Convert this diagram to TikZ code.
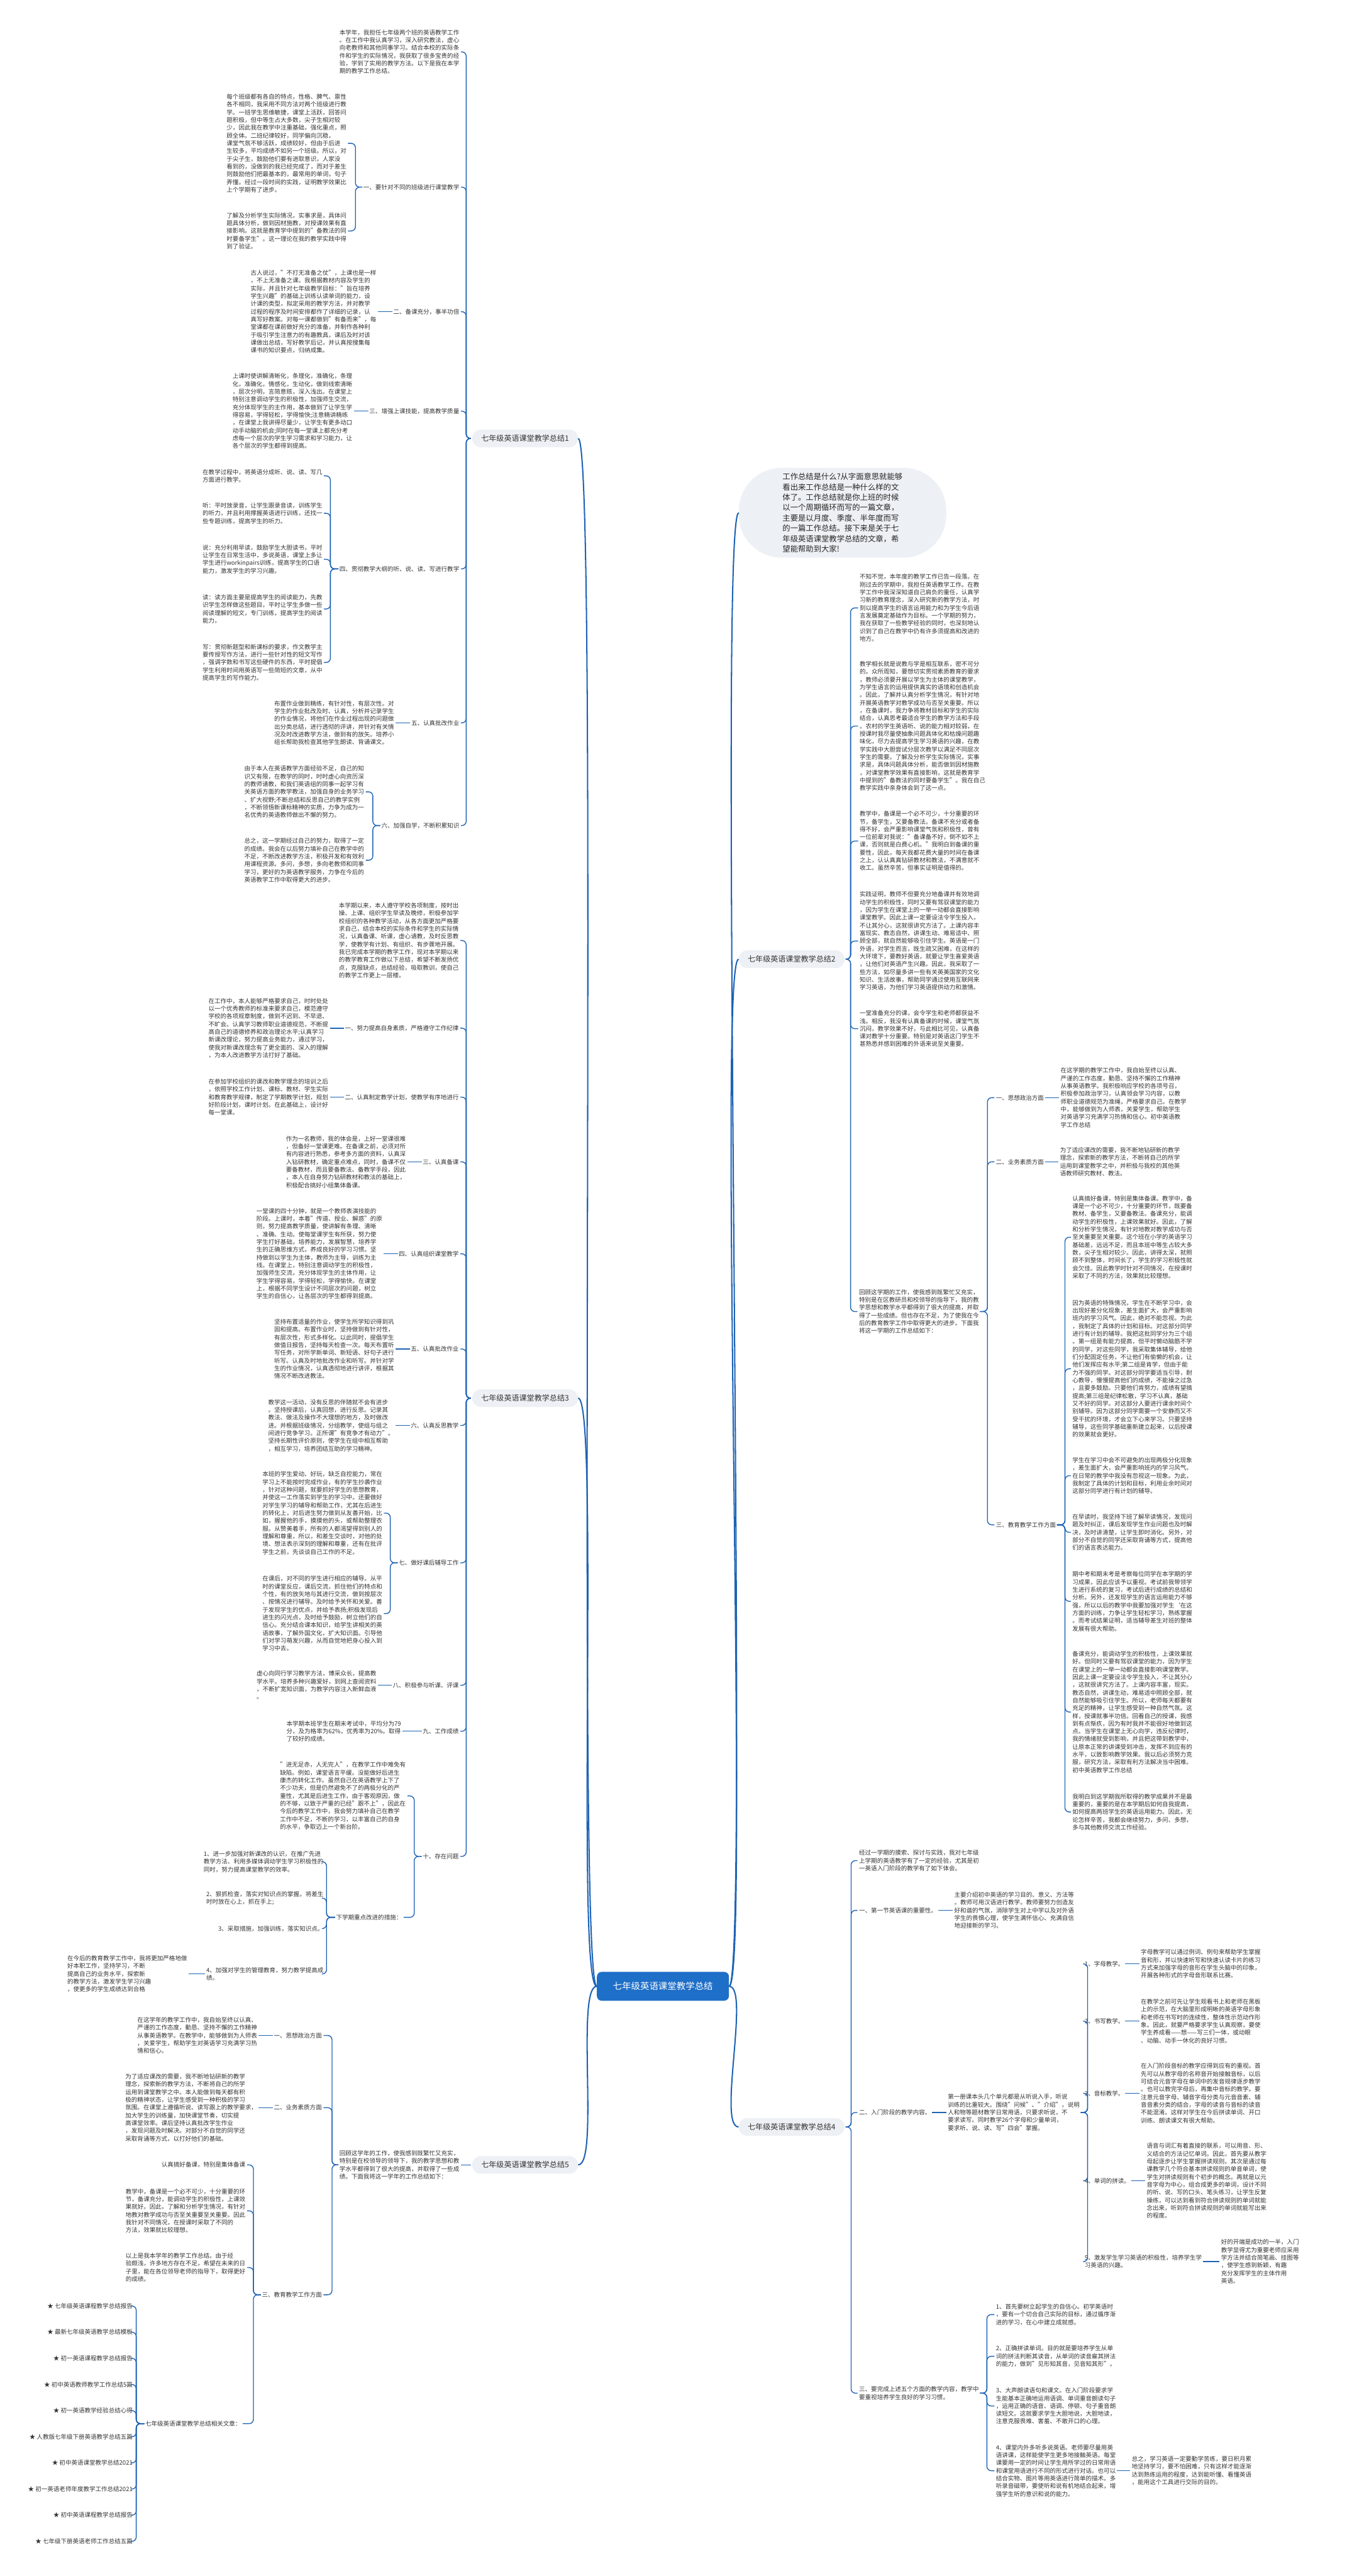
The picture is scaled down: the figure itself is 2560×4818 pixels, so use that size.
\documentclass[tikz,border=0pt]{standalone}
\usepackage{fontspec}
\setmainfont{Noto Sans CJK SC}
\usetikzlibrary{calc}
\definecolor{linec}{HTML}{1E63B4}
\definecolor{txtc}{HTML}{333333}
\definecolor{pillc}{HTML}{EDF0F4}
\definecolor{rootc}{HTML}{1E6FC8}
\begin{document}
\begin{tikzpicture}[x=1pt,y=-1pt,
 tx/.style={font=\fontsize{11.2}{14.5}\selectfont, text=txtc, inner sep=0pt, outer sep=0pt, align=left},
 txr/.style={tx, anchor=west},
 txl/.style={tx, anchor=east},
 pill/.style={fill=pillc, rounded corners=16pt, minimum height=33pt, inner xsep=17pt, inner ysep=0pt, font=\fontsize{14.2}{16}\selectfont, text=txtc},
 conn/.style={draw=linec, line width=1.6pt, rounded corners=8pt, shorten <=2pt, shorten >=3pt},
 mainc/.style={draw=linec, line width=2.4pt}]
\useasboundingbox (0,0) rectangle (2560,4818);
% root and intro bubble
\node[fill=rootc, rounded corners=9pt, minimum height=54pt, inner xsep=30pt, text=white, font=\fontsize{17}{20}\selectfont] (root) at (1240,3715) {七年级英语课堂教学总结};
\node[fill=pillc, rounded corners=80pt, minimum height=168pt, minimum width=388pt, inner sep=0pt, text=black!85, align=left, font=\fontsize{14.5}{19.3}\selectfont] (intro) at (1576,959) {工作总结是什么?从字面意思就能够\\看出来工作总结是一种什么样的文\\体了。工作总结就是你上班的时候\\以一个周期循环而写的一篇文章，\\主要是以月度、季度、半年度而写\\的一篇工作总结。接下来是关于七\\年级英语课堂教学总结的文章，希\\望能帮助到大家!};
% pills
\node[pill, anchor=west] (b1) at (883,820) {七年级英语课堂教学总结1};
\node[pill, anchor=east] (b2) at (1580,1794) {七年级英语课堂教学总结2};
\node[pill, anchor=west] (b3) at (883,2615) {七年级英语课堂教学总结3};
\node[pill, anchor=east] (b4) at (1580,3978) {七年级英语课堂教学总结4};
\node[pill, anchor=west] (b5) at (883,4049) {七年级英语课堂教学总结5};
\foreach \p in {b1,b3,b5} \draw[mainc] (root.west) .. controls +(-40,0) and +(40,0) .. (\p.east);
\foreach \p in {b2,b4} \draw[mainc] (root.east) .. controls +(40,0) and +(-40,0) .. (\p.west);
\draw[mainc] (root.east) .. controls +(40,0) and +(-40,0) .. (intro.west);

% ================= Branch 1 =================
\node[txl] (b1t0) at (859,97) {本学年，我担任七年级两个班的英语教学工作\\。在工作中我认真学习，深入研究教法，虚心\\向老教师和其他同事学习。结合本校的实际条\\件和学生的实际情况，我获取了很多宝贵的经\\验，学到了实用的教学方法。以下是我在本学\\期的教学工作总结。};
\node[txl] (b1l1) at (859,350) {一、要针对不同的班级进行课堂教学};
\node[txl] (b1l1a) at (648,268) {每个班级都有各自的特点，性格、脾气、禀性\\各不相同，我采用不同方法对两个班级进行教\\学。一班学生思维敏捷，课堂上活跃，回答问\\题积极，但中等生占大多数，尖子生相对较\\少，因此我在教学中注重基础，强化重点，照\\顾全体。二班纪律较好，同学偏向沉稳，\\课堂气氛不够活跃，成绩较好，但由于后进\\生较多，平均成绩不如另一个班级。所以，对\\于尖子生，鼓励他们要有进取意识，人家没\\看到的，没做到的我已经完成了，而对于差生\\则鼓励他们把最基本的，最常用的单词，句子\\弄懂。经过一段时间的实践，证明教学效果比\\上个学期有了进步。};
\node[txl] (b1l1b) at (648,432) {了解及分析学生实际情况，实事求是，具体问\\题具体分析，做到因材施教，对授课效果有直\\接影响。这就是教育学中提到的"备教法的同\\时要备学生"。这一理论在我的教学实践中得\\到了验证。};
\node[txl] (b1l2) at (859,583) {二、备课充分，事半功倍};
\node[txl] (b1l2a) at (704,583) {古人说过，"不打无准备之仗"，上课也是一样\\，不上无准备之课。我根据教材内容及学生的\\实际，并且针对七年级教学目标："旨在培养\\学生兴趣"的基础上训练认读单词的能力，设\\计课的类型，拟定采用的教学方法，并对教学\\过程的程序及时间安排都作了详细的记录，认\\真写好教案。对每一课都做到"有备而来"，每\\堂课都在课前做好充分的准备，并制作各种利\\于吸引学生注意力的有趣教具，课后及时对该\\课做出总结，写好教学后记，并认真按搜集每\\课书的知识要点，归纳成集。};
\node[txl] (b1l3) at (859,769) {三、增强上课技能，提高教学质量};
\node[txl] (b1l3a) at (659,769) {上课时使讲解清晰化，条理化，准确化，条理\\化，准确化，情感化，生动化，做到线索清晰\\，层次分明，言简意赅，深入浅出。在课堂上\\特别注意调动学生的积极性，加强师生交流，\\充分体现学生的主作用，基本做到了让学生学\\得容易，学得轻松，学得愉快;注意精讲精练\\，在课堂上我讲得尽量少，让学生有更多动口\\动手动脑的机会;同时在每一堂课上都充分考\\虑每一个层次的学生学习需求和学习能力，让\\各个层次的学生都得到提高。};
\node[txl] (b1l4) at (859,1064) {四、贯彻教学大纲的听、说、读、写进行教学};
\node[txl] (b1l4a) at (603,890) {在教学过程中，将英语分成听、说、读、写几\\方面进行教学。};
\node[txl] (b1l4b) at (603,960) {听：平时放录音，让学生跟录音读，训练学生\\的听力，并且利用撑握英语进行训练，还找一\\些专题训练，提高学生的听力。};
\node[txl] (b1l4c) at (603,1046) {说：充分利用早读，鼓励学生大胆读书，平时\\让学生在日常生活中，多说英语，课堂上多让\\学生进行workinpairs训练，提高学生的口语\\能力，激发学生的学习兴趣。};
\node[txl] (b1l4d) at (603,1139) {读：读方面主要是提高学生的阅读能力，先教\\识学生怎样做这些题目，平时让学生多做一些\\阅读理解的短文，专门训练，提高学生的阅读\\能力。};
\node[txl] (b1l4e) at (603,1239) {写：贯彻新题型和新课标的要求，作文教学主\\要传授写作方法，进行一些针对性的短文写作\\，强调字数和书写这些硬件的东西，平时提倡\\学生利用时间用英语写一些简短的文章，从中\\提高学生的写作能力。};
\node[txl] (b1l5) at (859,1352) {五、认真批改作业};
\node[txl] (b1l5a) at (737,1352) {布置作业做到精练，有针对性，有层次性。对\\学生的作业批改及时、认真，分析并记录学生\\的作业情况，将他们在作业过程出现的问题做\\出分类总结，进行透彻的评讲，并针对有关情\\况及时改进教学方法，做到有的放矢。培养小\\组长帮助我检查其他学生朗读、背诵课文。};
\node[txl] (b1l6) at (859,1544) {六、加强自学，不断积累知识};
\node[txl] (b1l6a) at (681,1481) {由于本人在英语教学方面经验不足，自己的知\\识又有限，在教学的同时，时时虚心向资历深\\的教师请教，和我们英语组的同事一起学习有\\关英语方面的教学教法，加强自身的业务学习\\、扩大视野;不断总结和反思自己的教学实例\\，不断领悟新课标精神的实质，力争为成为一\\名优秀的英语教师做出不懈的努力。};
\node[txl] (b1l6b) at (681,1609) {总之，这一学期经过自己的努力，取得了一定\\的成绩。我会在以后努力填补自己在教学中的\\不足，不断改进教学方法，积极开发和有效利\\用课程资源。多问，多想，多向老教师和同事\\学习，更好的为英语教学服务，力争在今后的\\英语教学工作中取得更大的进步。};
\foreach \c in {b1t0,b1l1,b1l2,b1l3,b1l4,b1l5,b1l6} \draw[conn] (b1.west) -- ++(-11,0) |- (\c.east);
\foreach \c in {b1l1a,b1l1b} \draw[conn] (b1l1.west) -- ++(-15,0) |- (\c.east);
\draw[conn] (b1l2.west) -- (b1l2a.east);
\draw[conn] (b1l3.west) -- (b1l3a.east);
\foreach \c in {b1l4a,b1l4b,b1l4c,b1l4d,b1l4e} \draw[conn] (b1l4.west) -- ++(-17,0) |- (\c.east);
\draw[conn] (b1l5.west) -- (b1l5a.east);
\foreach \c in {b1l6a,b1l6b} \draw[conn] (b1l6.west) -- ++(-16,0) |- (\c.east);

% ================= Branch 3 =================
\node[txl] (b3t0) at (858,1759) {本学期以来，本人遵守学校各项制度，按时出\\操、上课、组织学生早读及晚修，积极参加学\\校组织的各种教学活动，从各方面更加严格要\\求自己，结合本校的实际条件和学生的实际情\\况，认真备课、听课，虚心请教，及时反思教\\学，使教学有计划、有组织、有步骤地开展。\\我已完成本学期的教学工作，现对本学期以来\\的教学教育工作做以下总结，希望不断发扬优\\点，克服缺点，总结经验，吸取教训，使自己\\的教学工作更上一层楼。};
\node[txl] (b3l1) at (858,1923) {一、努力提高自身素质，严格遵守工作纪律};
\node[txl] (b3l1a) at (614,1923) {在工作中，本人能够严格要求自己，时时处处\\以一个优秀教师的标准来要求自己，模范遵守\\学校的各项规章制度，做到不迟到、不早退、\\不旷会。认真学习教师职业道德规范，不断提\\高自己的道德修养和政治理论水平;认真学习\\新课改理论，努力提高业务能力，通过学习，\\使我对新课改理念有了更全面的、深入的理解\\，为本人改进教学方法打好了基础。};
\node[txl] (b3l2) at (858,2052) {二、认真制定教学计划，使教学有序地进行};
\node[txl] (b3l2a) at (614,2052) {在参加学校组织的课改和教学理念的培训之后\\，依照学校工作计划、课标、教材、学生实际\\和教育教学规律，制定了学期教学计划，规划\\好阶段计划，课时计划。在此基础上，设计好\\每一堂课。};
\node[txl] (b3l3) at (858,2173) {三、认真备课};
\node[txl] (b3l3a) at (759,2173) {作为一名教师，我的体会是，上好一堂课很难\\，但备好一堂课更难。在备课之前，必须对所\\有内容进行熟悉，参考多方面的资料，认真深\\入钻研教材，确定重点难点，同时，备课不仅\\要备教材，而且要备教法、备教学手段，因此\\，本人在自身努力钻研教材和教法的基础上，\\积极配合搞好小组集体备课。};
\node[txl] (b3l4) at (858,2345) {四、认真组织课堂教学};
\node[txl] (b3l4a) at (715,2345) {一堂课的四十分钟，就是一个教师表演技能的\\阶段。上课时，本着"传道、授业、解惑"的原\\则，努力提高教学质量，使讲解有条理、清晰\\、准确、生动。使每堂课学生有所获，努力使\\学生打好基础，培养能力，发展智慧，培养学\\生的正确思维方式，养成良好的学习习惯。坚\\持做到以学生为主体，教师为主导，训练为主\\线。在课堂上，特别注意调动学生的积极性，\\加强师生交流，充分体现学生的主体作用，让\\学生学得容易，学得轻松，学得愉快。在课堂\\上，根据不同学生设计不同层次的问题，树立\\学生的自信心，让各层次的学生都得到提高。};
\node[txl] (b3l5) at (858,2523) {五、认真批改作业};
\node[txl] (b3l5a) at (737,2523) {坚持布置适量的作业，使学生所学知识得到巩\\固和提高。布置作业时，坚持做到有针对性，\\有层次性，形式多样化。以此同时，提倡学生\\做值日报告，坚持每天检查一次。每天布置听\\写任务，对所学新单词、新短语、好句子进行\\听写。认真及时地批改作业和听写。并针对学\\生的作业情况，认真透彻地进行讲评，根据其\\情况不断改进教法。};
\node[txl] (b3l6) at (858,2666) {六、认真反思教学};
\node[txl] (b3l6a) at (737,2666) {教学这一活动，没有反思的伴随就不会有进步\\。坚持授课后，认真回想，进行反思。记录其\\教法、做法及操作不大理想的地方，及时做改\\进。并根据班级情况，分组教学，使组与组之\\间进行竞争学习。正所谓"有竞争才有动力"。\\坚持长期性评价原则，使学生在组中相互帮助\\，相互学习，培养团结互助的学习精神。};
\node[txl] (b3l7) at (858,2923) {七、做好课后辅导工作};
\node[txl] (b3l7a) at (715,2830) {本班的学生爱动、好玩，缺乏自控能力，常在\\学习上不能按时完成作业，有的学生抄袭作业\\，针对这种问题，就要抓好学生的思想教育，\\并使这一工作落实到学生的学习中。还要做好\\对学生学习的辅导和帮助工作，尤其在后进生\\的转化上，对后进生努力做到从友善开始，比\\如，握握他的手，摸摸他的头，或帮助整理衣\\服。从赞美着手，所有的人都渴望得到别人的\\理解和尊重，所以，和差生交谈时，对他的处\\境、想法表示深刻的理解和尊重，还有在批评\\学生之前，先谈谈自己工作的不足。};
\node[txl] (b3l7b) at (715,3018) {在课后，对不同的学生进行相应的辅导。从平\\时的课堂反应，课后交流，抓住他们的特点和\\个性，有的放矢地与其进行交流，做到按层次\\、按情况进行辅导。及时给予关怀和关爱。善\\于发现学生的优点，并给予表扬;积极发现后\\进生的闪光点，及时给予鼓励，树立他们的自\\信心。充分结合课本知识，给学生讲相关的英\\语故事，了解外国文化，扩大知识面。引导他\\们对学习萌发兴趣，从而自觉地把身心投入到\\学习中去。};
\node[txl] (b3l8) at (858,3152) {八、积极参与听课、评课};
\node[txl] (b3l8a) at (704,3152) {虚心向同行学习教学方法，博采众长，提高教\\学水平。培养多种兴趣爱好，到网上查阅资料\\，不断扩宽知识面，为教学内容注入新鲜血液\\。};
\node[txl] (b3l9) at (858,3238) {九、工作成绩};
\node[txl] (b3l9a) at (750,3238) {本学期本班学生在期末考试中，平均分为79\\分，及为格率为62\%，优秀率为20\%。取得\\了较好的成绩。};
\node[txl] (b3l10) at (858,3472) {十、存在问题};
\node[txl] (b3l10a) at (759,3359) {"进无足赤，人无完人"，在教学工作中难免有\\缺陷。例如，课堂语言平缓。没能做好后进生\\康杰的转化工作。虽然自己在英语教学上下了\\不少功夫，但是仍然避免不了的两极分化的严\\重性，尤其是后进生工作，由于客观原因，做\\的不够，以致于严重的已经"跟不上"，因此在\\今后的教学工作中，我会努力填补自己在教学\\工作中不足，不断的学习，以丰富自己的自身\\的水平，争取迈上一个新台阶。};
\node[txl] (b3l10b) at (752,3586) {下学期重点改进的措施：};
\node[txl] (b3i1) at (605,3482) {1、进一步加强对新课改的认识，在推广先进\\教学方法、利用多媒体调动学生学习积极性的\\同时，努力提高课堂教学的效率。};
\node[txl] (b3i2) at (605,3550) {2、狠抓检查，落实对知识点的掌握。将差生\\时时放在心上，抓在手上;};
\node[txl] (b3i3) at (605,3607) {3、采取措施，加强训练，落实知识点。};
\node[txl] (b3i4) at (605,3692) {4、加强对学生的管理教育，努力教学提高成\\绩。};
\node[txl] (b3i4a) at (350,3692) {在今后的教育教学工作中，我将更加严格地做\\好本职工作，坚持学习，不断\\提高自己的业务水平，探索新\\的教学方法，激发学生学习兴趣\\，使更多的学生成绩达到合格};
\foreach \c in {b3t0,b3l1,b3l2,b3l3,b3l4,b3l5,b3l6,b3l7,b3l8,b3l9,b3l10} \draw[conn] (b3.west) -- ++(-11,0) |- (\c.east);
\foreach \n in {1,2,3,4,5,6,8,9} \draw[conn] (b3l\n.west) -- (b3l\n a.east);
\foreach \c in {b3l7a,b3l7b} \draw[conn] (b3l7.west) -- ++(-16,0) |- (\c.east);
\foreach \c in {b3l10a,b3l10b} \draw[conn] (b3l10.west) -- ++(-16,0) |- (\c.east);
\foreach \c in {b3i1,b3i2,b3i3,b3i4} \draw[conn] (b3l10b.west) -- ++(-18,0) |- (\c.east);
\draw[conn] (b3i4.west) -- (b3i4a.east);

% ================= Branch 5 =================
\node[txl] (b5t) at (859,4049) {回顾这学年的工作，使我感到既繁忙又充实，\\特别是在校领导的领导下，我的教学思想和教\\学水平都得到了很大的提高，并取得了一些成\\绩。下面我将这一学年的工作总结如下：};
\node[txl] (b5l1) at (602,3807) {一、思想政治方面};
\node[txl] (b5l1a) at (481,3807) {在这学年的教学工作中，我自始至终以认真、\\严谨的工作态度，勤恳、坚持不懈的工作精神\\从事英语教学。在教学中，能够做到为人师表\\，关爱学生，帮助学生对英语学习充满学习热\\情和信心。};
\node[txl] (b5l2) at (602,3942) {二、业务素质方面};
\node[txl] (b5l2a) at (481,3942) {为了适应课改的需要，我不断地钻研新的教学\\理念，探索新的教学方法，不断将自己的所学\\运用到课堂教学之中。本人能做到每天都有积\\极的精神状态，让学生感受到一种积极的学习\\氛围。在课堂上遵循听说、读写跟上的教学要求，\\加大学生的训练量，加快课堂节奏，切实提\\高课堂效率。课后坚持认真批改学生作业\\，发现问题及时解决。对部分不自觉的同学还\\采取背诵等方式，以打好他们的基础。};
\node[txl] (b5l3) at (602,4292) {三、教育教学工作方面};
\node[txl] (b5l3a) at (459,4049) {认真搞好备课，特别是集体备课};
\node[txl] (b5l3b) at (459,4135) {教学中，备课是一个必不可少，十分重要的环\\节，备课充分，能调动学生的积极性，上课效\\果就好。因此，了解和分析学生情况，有针对\\地教对教学成功与否至关重要至关重要。因此\\我针对不同情况，在授课时采取了不同的\\方法，效果就比较理想。};
\node[txl] (b5l3c) at (459,4241) {以上是我本学年的教学工作总结。由于经\\验颇浅，许多地方存在不足，希望在未来的日\\子里，能在各位领导老师的指导下，取得更好\\的成绩。};
\node[txl] (rel) at (451,4533) {七年级英语课堂教学总结相关文章：};
\foreach \t [count=\k from 0] in {七年级英语课程教学总结报告,最新七年级英语教学总结模板,初一英语课程教学总结报告,初中英语教师教学工作总结5篇,初一英语教学经验总结心得,人教版七年级下册英语教学总结五篇,初中英语课堂教学总结2021,初一英语老师年度教学工作总结2021,初中英语课程教学总结报告,七年级下册英语老师工作总结五篇}
  \node[txl] (r\k) at (248,4313+48.9*\k) {★ \t};
\draw[conn] (b5.west) -- (b5t.east);
\foreach \c in {b5l1,b5l2,b5l3} \draw[conn] (b5t.west) -- ++(-14,0) |- (\c.east);
\draw[conn] (b5l1.west) -- (b5l1a.east);
\draw[conn] (b5l2.west) -- (b5l2a.east);
\foreach \c in {b5l3a,b5l3b,b5l3c,rel} \draw[conn] (b5l3.west) -- ++(-16,0) |- (\c.east);
\foreach \k in {0,...,9} \draw[conn] (rel.west) -- ++(-17,0) |- (r\k.east);

% ================= Branch 2 =================
\node[txr] (b2t1) at (1608,1137) {不知不觉，本年度的教学工作已告一段落。在\\刚过去的学期中，我担任英语教学工作。在教\\学工作中我深深知道自己肩负的重任，认真学\\习新的教育理念，深入研究新的教学方法，时\\刻以提高学生的语言运用能力和为学生今后语\\言发展奠定基础作为目标。一个学期的努力，\\我在获取了一些教学经验的同时，也深刻地认\\识到了自己在教学中仍有许多须提高和改进的\\地方。};
\node[txr] (b2t2) at (1608,1358) {教学相长就是说教与学是相互联系，密不可分\\的。众所周知，要想切实贯彻素质教育的要求\\，教师必须要开展以学生为主体的课堂教学，\\为学生语言的运用提供真实的语境和创造机会\\。因此，了解并认真分析学生情况，有针对地\\开展英语教学对教学成功与否至关重要。所以\\，在备课时，我力争将教材目标和学生的实际\\结合，认真思考最适合学生的教学方法和手段\\。农村的学生英语听、说的能力相对较弱，在\\授课时我尽量使抽象问题具体化和枯燥问题趣\\味化，尽力去提高学生学习英语的兴趣，在教\\学实践中大胆尝试分层次教学以满足不同层次\\学生的需要。了解及分析学生实际情况，实事\\求是，具体问题具体分析，能否做到因材施教\\，对课堂教学效果有直接影响，这就是教育学\\中提到的"备教法的同时要备学生"。我在自己\\教学实践中亲身体会到了这一点。};
\node[txr] (b2t3) at (1608,1573) {教学中，备课是一个必不可少，十分重要的环\\节，备学生，又要备教法。备课不充分或者备\\得不好，会严重影响课堂气氛和积极性，曾有\\一位前辈对我说："备课备不好，倒不如不上\\课，否则就是白费心机。"我明白到备课的重\\要性，因此，每天我都花费大量的时间在备课\\之上，认认真真钻研教材和教法，不满意就不\\收工。虽然辛苦，但事实证明是值得的。};
\node[txr] (b2t4) at (1608,1760) {实践证明，教师不但要充分地备课并有效地调\\动学生的积极性，同时又要有驾驭课堂的能力\\，因为学生在课堂上的一举一动都会直接影响\\课堂教学。因此上课一定要设法令学生投入，\\不让其分心，这就很讲究方法了。上课内容丰\\富现实、教态自然，讲课生动、难易适中、照\\顾全部，就自然能够吸引住学生。英语是一门\\外语，对学生而言，既生疏又困难，在这样的\\大环境下，要教好英语，就要让学生喜爱英语\\，让他们对英语产生兴趣。因此，我采取了一\\些方法，如尽量多讲一些有关英美国家的文化\\知识、生活故事，帮助同学通过使用互联网来\\学习英语，为他们学习英语提供动力和激情。};
\node[txr] (b2t5) at (1608,1924) {一堂准备充分的课，会令学生和老师都获益不\\浅。相反，我没有认真备课的时候，课堂气氛\\沉闷，教学效果不好，与此相比可见，认真备\\课对教学十分重要。特别是对英语这门学生不\\甚熟悉并感到困难的外语来说至关重要。};
\node[txr] (b2t6) at (1607,2453) {回顾这学期的工作，使我感到既繁忙又充实，\\特别是在区教研员和校领导的指导下，我的教\\学思想和教学水平都得到了很大的提高，并取\\得了一些成绩。但也存在不足，为了使我在今\\后的教育教学工作中取得更大的进步。下面我\\将这一学期的工作总结如下：};
\node[txr] (b2l1) at (1863,2053) {一、思想政治方面};
\node[txr] (b2l1a) at (1984,2053) {在这学期的教学工作中，我自始至终以认真、\\严谨的工作态度，勤恳、坚持不懈的工作精神\\从事英语教学。我积极响应学校的各项号召，\\积极参加政治学习，认真领会学习内容，以教\\师职业道德规范为准绳，严格要求自己。在教学\\中，能够做到为人师表，关爱学生，帮助学生\\对英语学习充满学习热情和信心。初中英语教\\学工作总结};
\node[txr] (b2l2) at (1863,2173) {二、业务素质方面};
\node[txr] (b2l2a) at (1983,2173) {为了适应课改的需要，我不断地钻研新的教学\\理念，探索新的教学方法，不断将自己的所学\\运用到课堂教学之中，并积极与我校的其他英\\语教师研究教材、教法。};
\node[txr] (b2l3) at (1863,2852) {三、教育教学工作方面};
\node[txr] (b2l3a) at (2006,2314) {认真搞好备课，特别是集体备课。教学中，备\\课是一个必不可少，十分重要的环节，既要备\\教材、备学生，又要备教法。备课充分，能调\\动学生的积极性，上课效果就好。因此，了解\\和分析学生情况，有针对地教对教学成功与否\\至关重要至关重要。这个班在小学的英语学习\\基础差，远远不足，而且本班中等生占较大多\\数，尖子生相对较少。因此，讲得太深，就照\\顾不到整体，时间长了，学生的学习积极性就\\会欠佳。因此教学时针对不同情况，在授课时\\采取了不同的方法，效果就比较理想。};
\node[txr] (b2l3b) at (2006,2560) {因为英语的特殊情况，学生在不断学习中，会\\出现好差分化现象，差生面扩大，会严重影响\\班内的学习风气。因此，绝对不能忽视。为此\\，我制定了具体的计划和目标。对这部分同学\\进行有计划的辅导。我把这批同学分为三个组\\。第一组是有能力提高，但平时懒动脑筋不学\\的同学，对这些同学，我采取集体辅导，给他\\们分配固定任务，不让他们有偷懒的机会，让\\他们发挥应有水平;第二组是肯学，但由于能\\力不强的同学。对这部分同学要适当引导，耐\\心教导，慢慢提高他们的成绩，不能操之过急\\，且要多鼓励。只要他们肯努力，成绩有望搞\\提高;第三组是纪律松散，学习不认真，基础\\又不好的同学。对这部分人要进行课余时间个\\别辅导。因为这部分同学需要一个安静而又不\\受干扰的环境，才会立下心来学习。只要坚持\\辅导，这些同学基础重新建立起来，以后授课\\的效果就会更好。};
\node[txr] (b2l3c) at (2006,2760) {学生在学习中会不可避免的出现两极分化现象\\，差生面扩大，会严重影响班内的学习风气。\\在日常的教学中我没有忽视这一现象。为此，\\我制定了具体的计划和目标，利用业余时间对\\这部分同学进行有计划的辅导。};
\node[txr] (b2l3d) at (2006,2866) {在早读时，我坚持下班了解早读情况，发现问\\题及时纠正，课后发现学生作业问题也及时解\\决，及时讲清楚，让学生即时消化。另外，对\\部分不自觉的同学还采取背诵等方式，提高他\\们的语言表达能力。};
\node[txr] (b2l3e) at (2006,2995) {期中考和期末考是考察每位同学在本学期的学\\习成果，因此应该予以重视。考试前我带领学\\生进行系统的复习，考试后进行成绩的总结和\\分析。另外，还发现学生的语言运用能力不够\\强，所以以后的教学中我要加强对学生\symbol{96}在这\\方面的训练，力争让学生轻松学习，熟练掌握\\。而考试结果证明，适当辅导差生对班的整体\\发展有很大帮助。};
\node[txr] (b2l3f) at (2006,3202) {备课充分，能调动学生的积极性，上课效果就\\好。但同时又要有驾驭课堂的能力，因为学生\\在课堂上的一举一动都会直接影响课堂教学。\\因此上课一定要设法令学生投入，不让其分心\\，这就很讲究方法了。上课内容丰富，现实。\\教态自然，讲课生动，难易适中照顾全部，就\\自然能够吸引住学生。所以，老师每天都要有\\充足的精神，让学生感受到一种自然气氛。这\\样，授课就事半功倍。回看自己的授课，我感\\到有点惭疚，因为有时我并不能很好地做到这\\点。当学生在课堂上无心向学，违反纪律时，\\我的情绪就受到影响，并且把这带到教学中，\\让原本正常的讲课受到冲击，发挥不到应有的\\水平，以致影响教学效果。我以后必须努力克\\服，研究方法，采取有利方法解决当中困难。\\初中英语教学工作总结};
\node[txr] (b2l3g) at (2006,3389) {我明白到这学期我所取得的教学成果并不是最\\重要的，重要的是在本学期后如何自我提高，\\如何提高两班学生的英语运用能力。因此，无\\论怎样辛苦，我都会继续努力，多问、多想，\\多与其他教师交流工作经验。};
\foreach \c in {b2t1,b2t2,b2t3,b2t4,b2t5,b2t6} \draw[conn] (b2.east) -- ++(11,0) |- (\c.west);
\foreach \c in {b2l1,b2l2,b2l3} \draw[conn] (b2t6.east) -- ++(16,0) |- (\c.west);
\draw[conn] (b2l1.east) -- (b2l1a.west);
\draw[conn] (b2l2.east) -- (b2l2a.west);
\foreach \c in {b2l3a,b2l3b,b2l3c,b2l3d,b2l3e,b2l3f,b2l3g} \draw[conn] (b2l3.east) -- ++(17,0) |- (\c.west);

% ================= Branch 4 =================
\node[txr] (b4t0) at (1607,3480) {经过一学期的摸索、探讨与实践，我对七年级\\上学期的英语教学有了一定的经验，尤其是初\\一英语入门阶段的教学有了如下体会。};
\node[txr] (b4l1) at (1607,3573) {一、第一节英语课的重要性。};
\node[txr] (b4l1a) at (1785,3573) {主要介绍初中英语的学习目的、意义、方法等\\。教师可用汉语进行教学。教师要努力创造友\\好和谐的气氛，消除学生对上中学以及对外语\\学生的畏惧心理，使学生满怀信心、充满自信\\地迎接新的学习。};
\node[txr] (b4l2) at (1607,3951) {二、入门阶段的教学内容。};
\node[txr] (b4l2a) at (1773,3951) {第一册课本头几个单元都是从听说入手，听说\\训练的比重较大。围绕"问候"、"介绍"，说明\\人和物等题材教学日常用语，只要求听说，不\\要求读写。同时教学26个字母和少量单词，\\要求听、说、读、写"四会"掌握。};
\node[txr] (b4s1) at (2029,3673) {1、字母教学。};
\node[txr] (b4s1a) at (2134,3673) {字母教学可以通过例词、例句来帮助学生掌握\\音和形，并以快速听写和快速认读卡片的练习\\方式来加强字母的音形在学生头脑中的印象，\\开展各种形式的字母音形联系比赛。};
\node[txr] (b4s2) at (2029,3780) {2、书写教学。};
\node[txr] (b4s2a) at (2134,3780) {在教学之前可先让学生观看书上和老师在黑板\\上的示范，在大脑里形成明晰的英语字母形象\\和老师在书写时的连续性，整体性示范动作形\\象。因此，就要严格要求学生认真观察，要使\\学生养成看——想——写三们一体，或动眼\\、动脑、动手一休化的良好习惯。};
\node[txr] (b4s3) at (2029,3915) {3、音标教学。};
\node[txr] (b4s3a) at (2134,3915) {在入门阶段音标的教学应得到应有的重视。首\\先可以从教字母的名称音开始接触音标，以后\\可结合元音字母在单词中的发音规律逐步教学\\。也可以教完字母后，再集中音标的教学。要\\注意元音字母、辅音字母分类与元音音素、辅\\音音素分类的结合，字母的读音与音标的读音\\不能混淆。这样对学生在今后拼读单词、开口\\训练、朗读课文有很大帮助。};
\node[txr] (b4s4) at (2029,4079) {4、单词的拼读。};
\node[txr] (b4s4a) at (2145,4079) {语音与词汇有着直接的联系，可以用音、形、\\义结合的方法记忆单词。因此，首先要从教字\\母起逐步让学生掌握拼读规则。其次是通过每\\课教学几个符合基本拼读规则的单音单词，使\\学生对拼读规则有个初步的概念。再就是以元\\音字母为中心，组合成更多的单词，设计不同\\的听、说、写的口头、笔头练习，让学生反复\\操练，可以达到看到符合拼读规则的单词就能\\念出来，听到符合拼读规则的单词就能写出来\\的程度。};
\node[txr] (b4s5) at (2029,4230) {5、激发学生学习英语的积极性，培养学生学\\习英语的兴趣。};
\node[txr] (b4s5a) at (2284,4230) {好的开端是成功的一半，入门\\教学显得尤为重要老师应采用\\学方法并结合简笔画、挂图等\\，使学生感到新颖，有趣\\充分发挥学生的主体作用\\英语。};
\node[txr] (b4l3) at (1607,4476) {三、要完成上述五个方面的教学内容，教学中\\要重视培养学生良好的学习习惯。};
\node[txr] (b4m1) at (1863,4329) {1、首先要树立起学生的自信心。初学英语时\\，要有一个切合自己实际的目标，通过循序渐\\进的学习，在心中建立成就感。};
\node[txr] (b4m2) at (1863,4407) {2、正确拼读单词。目的就是要培养学生从单\\词的拼法判断其读音，从单词的读音雇其拼法\\的能力，做到"见形知其音，见音知其形"。};
\node[txr] (b4m3) at (1863,4500) {3、大声朗读语句和课文。在入门阶段要求学\\生能基本正确地运用语调、单词重音朗读句子\\，运用正确的语音、语调、停顿、句子重音朗\\读短文。这就要求学生大胆地说，大胆地读，\\注意克服畏难、害羞、不敢开口的心理。};
\node[txr] (b4m4) at (1863,4621) {4、课堂内外多听多说英语。老师要尽量用英\\语讲课，这样能使学生更多地接触英语。每堂\\课要用一定的时间让学生用所学过的日常用语\\和课堂用语进行不同的形式进行对话。也可以\\结合实物、图片等用英语进行简单的描术。多\\听录音磁带，要使听和说有机地结合起来，增\\强学生听的意识和说的能力。};
\node[txr] (b4m4a) at (2117,4621) {总之，学习英语一定要勤学苦练，要日积月累\\地坚持学习，要不怕困难，只有这样才能逐渐\\达到熟练运用的程度，达到能听懂、看懂英语\\，能用这个工具进行交际的目的。};
\foreach \c in {b4t0,b4l1,b4l2,b4l3} \draw[conn] (b4.east) -- ++(12,0) |- (\c.west);
\draw[conn] (b4l1.east) -- (b4l1a.west);
\draw[conn] (b4l2.east) -- (b4l2a.west);
\foreach \c in {b4s1,b4s2,b4s3,b4s4,b4s5} \draw[conn] (b4l2a.east) -- ++(15,0) |- (\c.west);
\foreach \n in {1,2,3,4,5} \draw[conn] (b4s\n.east) -- (b4s\n a.west);
\foreach \c in {b4m1,b4m2,b4m3,b4m4} \draw[conn] (b4l3.east) -- ++(15,0) |- (\c.west);
\draw[conn] (b4m4.east) -- (b4m4a.west);
\end{tikzpicture}
\end{document}
